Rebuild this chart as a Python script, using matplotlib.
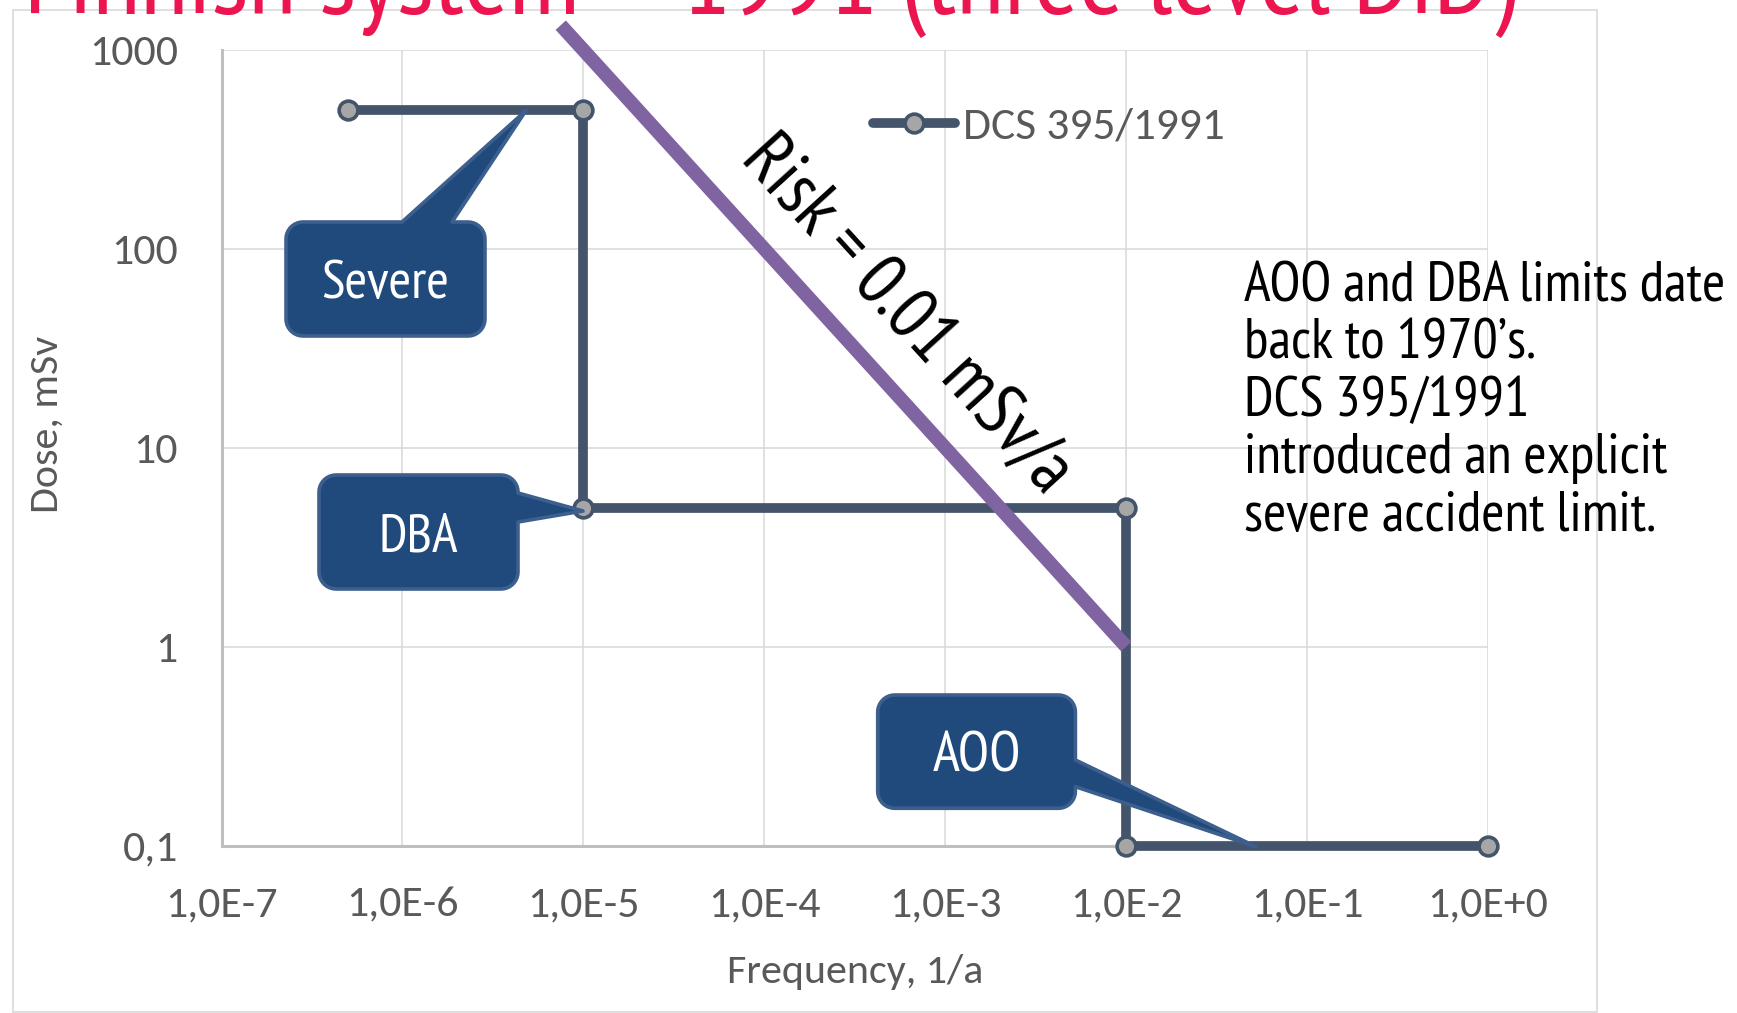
import numpy as np
import matplotlib
matplotlib.use("Agg")
import matplotlib.pyplot as plt
from matplotlib import font_manager
from matplotlib.patches import Polygon, Rectangle

# ---------------- data ----------------
freq = [5e-7, 1e-5, 1e-5, 1e-2, 1e-2, 1e0]
dose = [500, 500, 5, 5, 0.1, 0.1]
series_label = "DCS 395/1991"

risk_freq = [7.5e-6, 1e-2]
risk_dose = [1333, 1]
risk_label = "Risk = 0.01 mSv/a"

x_ticks = [1e-7, 1e-6, 1e-5, 1e-4, 1e-3, 1e-2, 1e-1, 1e0]
x_tick_labels = ["1,0E-7", "1,0E-6", "1,0E-5", "1,0E-4", "1,0E-3", "1,0E-2", "1,0E-1", "1,0E+0"]
y_ticks = [0.1, 1, 10, 100, 1000]
y_tick_labels = ["0,1", "1", "10", "100", "1000"]

x_label = "Frequency, 1/a"
y_label = "Dose, mSv"
title = "Finnish system \u2013 1991 (three level DiD)"
callout_labels = ["Severe", "DBA", "AOO"]
note_lines = ["AOO and DBA limits date", "back to 1970\u2019s.", "DCS 395/1991",
              "introduced an explicit", "severe accident limit."]

# ---------------- fonts ----------------
avail = {f.name for f in font_manager.fontManager.ttflist}


def pick(cands):
    for c in cands:
        if c in avail:
            return c
    return "DejaVu Sans"


chart_font = pick(["Carlito", "Lato", "Open Sans"])
text_font = pick(["PT Sans Narrow", "Fira Sans Condensed", "Roboto Condensed", "Carlito", "Lato"])

W, H = 1737, 1013
fig = plt.figure(figsize=(W / 100, H / 100), dpi=100)
renderer = fig.canvas.get_renderer()


def fit(t, target):
    rot = t.get_rotation()
    t.set_rotation(0)
    for _ in range(3):
        w = t.get_window_extent(renderer).width
        t.set_fontsize(t.get_fontsize() * target / w)
    t.set_rotation(rot)
    return t.get_fontsize()


def size_for(s, family, target):
    t = fig.text(0, 0, s, fontsize=20, family=family)
    fs = fit(t, target)
    t.remove()
    return fs


def inch(x, y):
    return (x / 100.0, (H - y) / 100.0)


# outer chart frame
fig.add_artist(Rectangle(inch(13, 1011.5), (1597 - 13) / 100, (1011.5 - 10) / 100,
                         transform=fig.dpi_scale_trans, fill=False,
                         ec="#D9D9D9", lw=1.2, zorder=0.5))

ax_left, ax_right, ax_top, ax_bottom = 221.5, 1488.0, 50.0, 845.5
ax = fig.add_axes([ax_left / W, 1 - ax_bottom / H, (ax_right - ax_left) / W,
                   (ax_bottom - ax_top) / H])
ax.patch.set_visible(False)
ax.set_xscale("log")
ax.set_yscale("log")
ax.set_xlim(1e-7, 1e0)
ax.set_ylim(0.1, 1000)

tick_fs = 0.5 * (size_for("1,0E-7", chart_font, 113) + size_for("1000", chart_font, 88.6))
ax.set_xticks(x_ticks)
ax.set_xticklabels(x_tick_labels)
ax.set_yticks(y_ticks)
ax.set_yticklabels(y_tick_labels)
ax.xaxis.set_minor_locator(matplotlib.ticker.NullLocator())
ax.yaxis.set_minor_locator(matplotlib.ticker.NullLocator())
ax.tick_params(axis="both", length=0, labelsize=tick_fs, labelcolor="#595959")
ax.tick_params(axis="y", pad=31.5)
ax.tick_params(axis="x", pad=29.5)
for lab in ax.get_xticklabels() + ax.get_yticklabels():
    lab.set_family(chart_font)

ax.grid(True, which="major", color="#D9D9D9", lw=1.1)
ax.set_axisbelow(True)
for s in ["top", "right"]:
    ax.spines[s].set_visible(False)
for s in ["left", "bottom"]:
    ax.spines[s].set_color("#BFBFBF")
    ax.spines[s].set_linewidth(2.2)

label_fs = 0.5 * (size_for(x_label, chart_font, 273.6) + size_for(y_label, chart_font, 165))
ax.set_xlabel(x_label, fontsize=label_fs, color="#595959", family=chart_font)
ax.set_ylabel(y_label, fontsize=label_fs, color="#595959", family=chart_font)
ax.xaxis.label.set_va("baseline")
ax.xaxis.set_label_coords(0.5, (ax_bottom - 983.3) / (ax_bottom - ax_top))
ax.yaxis.label.set_va("center")
ax.yaxis.set_label_coords((46.7 - ax_left) / (ax_right - ax_left), (ax_bottom - 424.2) / (ax_bottom - ax_top))

# series
line, = ax.plot(freq, dose, color="#44546A", lw=7.0, marker="o", ms=13.5,
                mfc="#A6A6A6", mec="#44546A", mew=2.6, clip_on=False, zorder=3,
                solid_capstyle="round", label=series_label)

# risk line
ax.plot(risk_freq, risk_dose, color="#8064A2", lw=10.0, solid_capstyle="butt",
        clip_on=False, zorder=4)
p0 = ax.transData.transform((risk_freq[0], risk_dose[0]))
p1 = ax.transData.transform((risk_freq[1], risk_dose[1]))
ang = np.degrees(np.arctan2(p1[1] - p0[1], p1[0] - p0[0]))
rt = fig.text(907 / W, 1 - 315 / H, risk_label, fontsize=30, family=text_font,
              color="black", ha="center", va="center", rotation=ang,
              rotation_mode="anchor", zorder=6)
fit(rt, 455)

# legend
leg_fs = size_for(series_label, chart_font, 261)
leg_px = leg_fs * 100 / 72
ax.legend(handles=[line], loc="center left",
          bbox_to_anchor=(872.7 / W, 1 - 126.5 / H), bbox_transform=fig.transFigure,
          frameon=False, fontsize=leg_fs, labelcolor="#595959",
          prop={"family": chart_font, "size": leg_fs},
          handlelength=(955 - 872.7) / leg_px, handletextpad=8 / leg_px,
          borderpad=0, borderaxespad=0, numpoints=1)


# callouts
def callout(x0, y0, x1, y1, r, side, b1, b2, tip, n=10):
    pts = [(x0 + r, y0)]

    def arc(cx, cy, a0, a1):
        for a in np.linspace(a0, a1, n):
            pts.append((cx + r * np.cos(a), cy + r * np.sin(a)))

    if side == "top":
        pts.extend([(b1, y0), tip, (b2, y0)])
    arc(x1 - r, y0 + r, -np.pi / 2, 0)
    if side == "right":
        pts.extend([(x1, b1), tip, (x1, b2)])
    arc(x1 - r, y1 - r, 0, np.pi / 2)
    arc(x0 + r, y1 - r, np.pi / 2, np.pi)
    arc(x0 + r, y0 + r, np.pi, 1.5 * np.pi)
    return [inch(px, py) for px, py in pts]


boxes = [
    (286, 222, 485, 336, "top", 402, 452, (526, 110.5)),
    (319, 475, 518, 589, "right", 493, 522, (583, 511)),
    (877.7, 695, 1075.4, 808.3, "right", 760, 786.7, (1256, 846.7)),
]
targets = [128, 79, 88]
for (x0, y0, x1, y1, side, b1, b2, tip), lab, tw in zip(boxes, callout_labels, targets):
    poly = Polygon(callout(x0, y0, x1, y1, 17, side, b1, b2, tip), closed=True,
                   transform=fig.dpi_scale_trans, fc="#214A7C", ec="#3D5F8E",
                   lw=2.6, joinstyle="round", clip_on=False, zorder=3.5)
    ax.add_patch(poly)
    t = fig.text((x0 + x1) / 2 / W, 1 - (y0 + y1) / 2 / H, lab, color="white",
                 family=text_font, fontsize=24, ha="center", va="center_baseline",
                 zorder=5)
    fit(t, tw)

# title (cut off at the top, as in the reference)
tt = fig.text(24 / W, 1 - 14 / H, title, color="#EC1550", family=text_font,
              fontsize=60, ha="left", va="baseline", zorder=6)
fit(tt, 1493)

# note text
note_fs = size_for(note_lines[0], text_font, 481)
for i, s in enumerate(note_lines):
    fig.text(1244.5 / W, 1 - (301 + 57.4 * i) / H, s, color="black",
             family=text_font, fontsize=note_fs, ha="left", va="baseline", zorder=6)

fig.savefig("out.png", dpi=100)
